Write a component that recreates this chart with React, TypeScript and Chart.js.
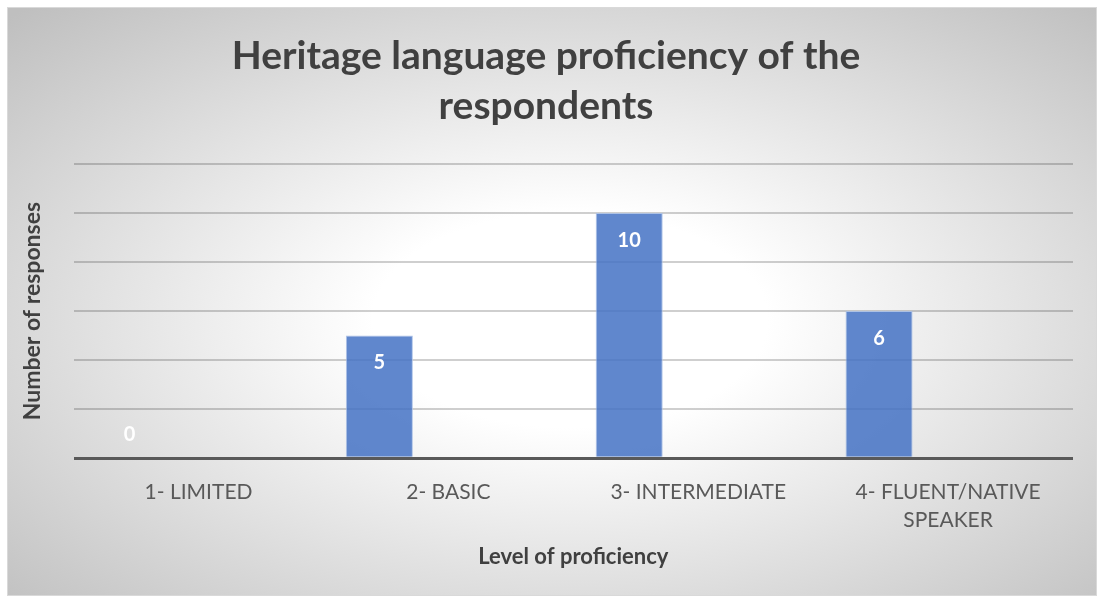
import React, { useEffect, useRef } from "react";
import { Chart, registerables } from "chart.js";

Chart.register(...registerables);

const categories: (string | string[])[] = [
  "1- LIMITED",
  "2- BASIC",
  "3- INTERMEDIATE",
  ["4- FLUENT/NATIVE", "SPEAKER"],
];
const responses: number[] = [0, 5, 10, 6];
const emptySeries: (number | null)[] = [null, null, null, null];
const yTicks: number[] = [0, 2, 4, 6, 8, 10, 12];

const FONT = "Lato, 'Open Sans', sans-serif";

const backgroundPlugin = {
  id: "bgPanel",
  beforeDraw(chart: any) {
    const ctx = chart.ctx as CanvasRenderingContext2D;
    const W = chart.width;
    const H = chart.height;
    ctx.save();
    ctx.fillStyle = "#ffffff";
    ctx.fillRect(0, 0, W, H);
    const bx = 7, by = 7, bw = W - 10, bh = H - 8;
    ctx.beginPath();
    ctx.rect(bx, by, bw, bh);
    ctx.clip();
    const cx = 570, cy = 320;
    const rx = 790, ry = 430;
    ctx.translate(cx, cy);
    ctx.scale(1, ry / rx);
    const g = ctx.createRadialGradient(0, 0, 0, 0, 0, rx);
    g.addColorStop(0, "#ffffff");
    g.addColorStop(0.25, "#ffffff");
    g.addColorStop(1, "#bfbfbf");
    ctx.fillStyle = g;
    ctx.fillRect(-rx * 2, -rx * 2, rx * 4, rx * 4);
    ctx.restore();
    ctx.save();
    ctx.strokeStyle = "#d9d9d9";
    ctx.lineWidth = 1;
    ctx.strokeRect(bx + 0.5, by + 0.5, bw - 1, bh - 1);
    ctx.restore();
  },
};

const labelPlugin = {
  id: "barValueLabels",
  afterDatasetsDraw(chart: any) {
    const ctx = chart.ctx as CanvasRenderingContext2D;
    const meta = chart.getDatasetMeta(0);
    ctx.save();
    ctx.fillStyle = "#ffffff";
    ctx.font = `bold 20px ${FONT}`;
    ctx.textAlign = "center";
    ctx.textBaseline = "middle";
    meta.data.forEach((bar: any, i: number) => {
      const v = responses[i];
      const h = bar.base - bar.y;
      const y = h > 40 ? bar.y + 27 : bar.y - 24;
      ctx.fillText(String(v), bar.x, y);
    });
    ctx.restore();
  },
};

export default function App() {
  const ref = useRef<HTMLCanvasElement | null>(null);
  useEffect(() => {
    if (!ref.current) return;
    const chart = new Chart(ref.current, {
      type: "bar",
      data: {
        labels: categories as any,
        datasets: [
          {
            label: "Responses",
            data: responses,
            backgroundColor: "rgba(68,114,196,0.85)",
            borderColor: "rgba(170,192,230,0.9)",
            borderWidth: 1,
            categoryPercentage: 1.105,
            barPercentage: 0.486,
          },
          {
            label: "",
            data: emptySeries,
            backgroundColor: "rgba(0,0,0,0)",
            categoryPercentage: 1.105,
            barPercentage: 0.486,
          },
        ],
      },
      options: {
        responsive: false,
        animation: false,
        layout: { padding: { left: 19, right: 27, top: 32, bottom: 29 } },
        plugins: {
          legend: { display: false },
          tooltip: { enabled: false },
          title: {
            display: true,
            text: ["Heritage language proficiency of the", "respondents"],
            color: "#404040",
            font: { family: FONT, size: 39, weight: "bold", lineHeight: 1.27 },
            padding: { top: 0, bottom: 33 },
          },
        },
        scales: {
          x: {
            grid: { display: false },
            border: { display: false },
            ticks: {
              color: "#595959",
              font: { family: FONT, size: 21, lineHeight: 1.33 },
              maxRotation: 0,
              autoSkip: false,
              padding: 12,
            },
            title: {
              display: true,
              text: "Level of proficiency",
              color: "#404040",
              font: { family: FONT, size: 22, weight: "bold", lineHeight: 1.0 },
              padding: { top: 0, bottom: 0 },
            },
          },
          y: {
            min: 0,
            max: 12,
            afterBuildTicks: (axis: any) => {
              axis.ticks = yTicks.map((v) => ({ value: v }));
            },
            ticks: { display: false },
            border: { display: false },
            grid: {
              drawTicks: false,
              color: (c: any) => (c.tick && c.tick.value === 0 ? "#595959" : "rgba(0,0,0,0.19)"),
              lineWidth: (c: any) => (c.tick && c.tick.value === 0 ? 3 : 2),
            },
            title: {
              display: true,
              text: "Number of responses",
              color: "#404040",
              font: { family: FONT, size: 23, weight: "bold", lineHeight: 1.2 },
              padding: { top: 0, bottom: 27 },
            },
          },
        },
      },
      plugins: [backgroundPlugin, labelPlugin],
    });
    return () => chart.destroy();
  }, []);
  return (
    <div style={{ position: "absolute", left: 0, top: 0, width: 1100, height: 597 }}>
      <canvas ref={ref} width={1100} height={597} style={{ display: "block" }} />
    </div>
  );
}
